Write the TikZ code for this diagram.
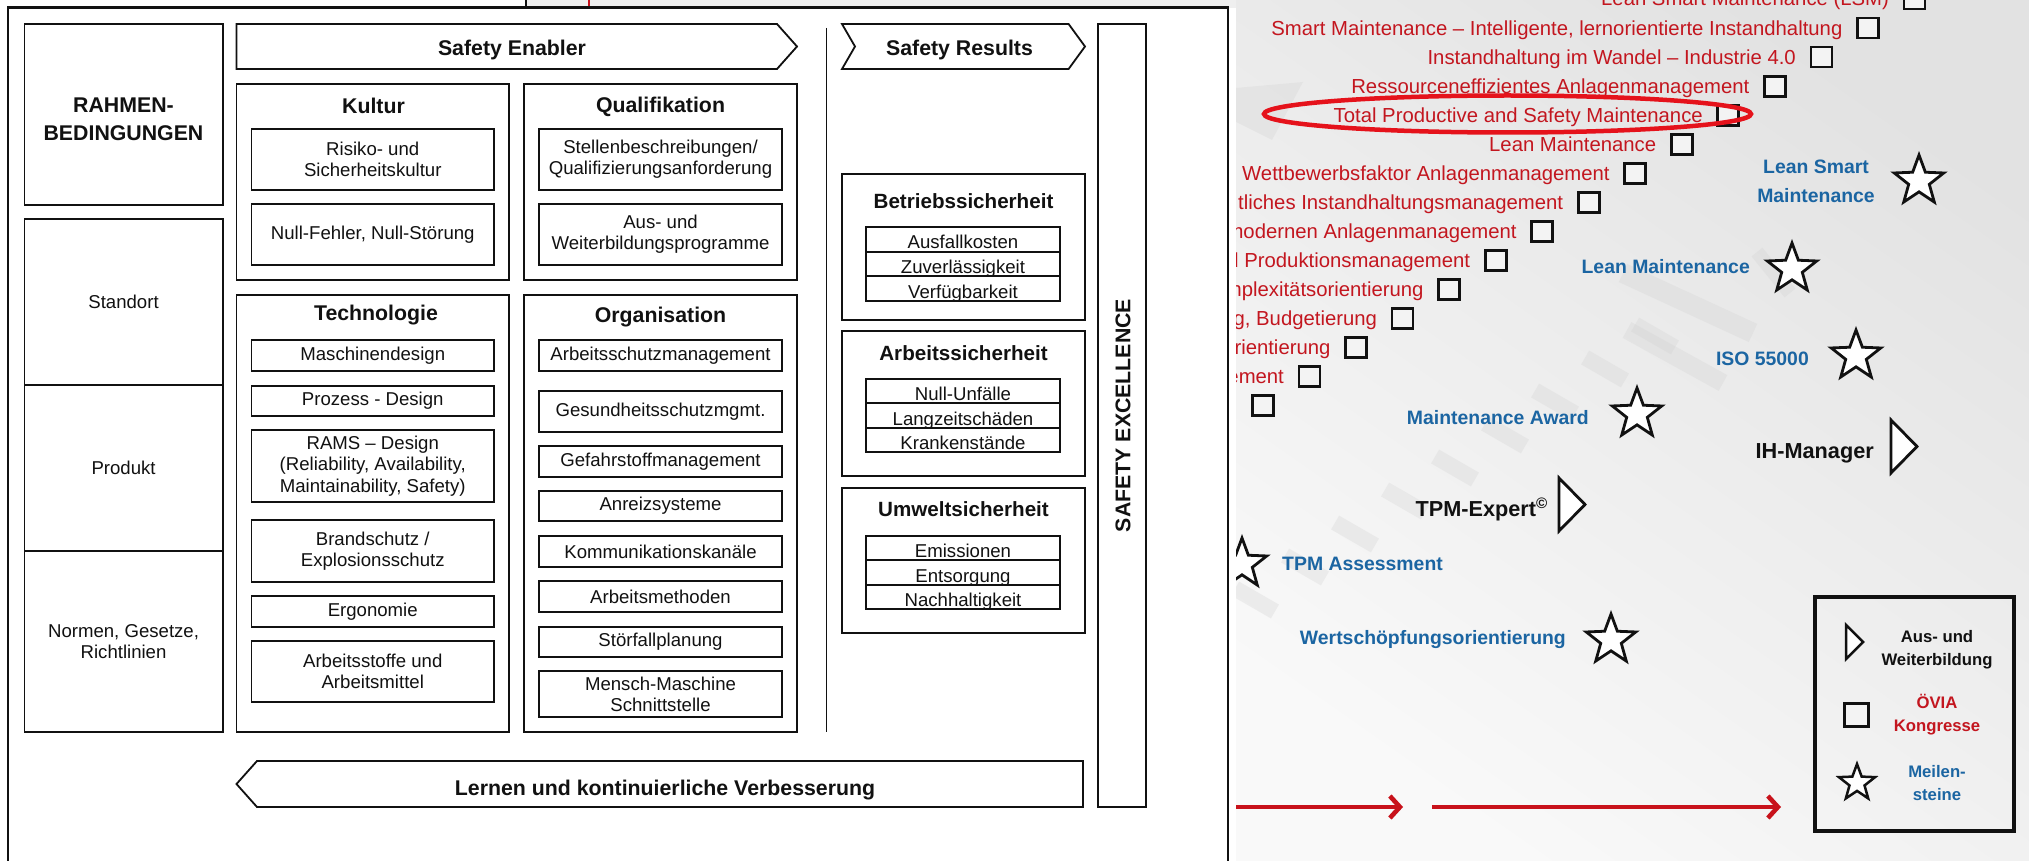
\documentclass[tikz,border=0pt]{standalone}
\usepackage{fontspec}
\setmainfont{Liberation Sans}
\usetikzlibrary{shapes.geometric,arrows.meta}

\definecolor{ink}{HTML}{111111}
\definecolor{ovred}{HTML}{C3161F}
\definecolor{msblue}{HTML}{1B65A2}
\definecolor{ringred}{HTML}{E5121B}
\definecolor{arrred}{HTML}{C8121B}
\definecolor{stripgrey}{HTML}{EFEFEF}
\definecolor{bghi}{HTML}{E2E2E2}
\definecolor{bglo}{HTML}{F9F9F9}
\definecolor{wmgrey}{HTML}{D2D2D2}
\definecolor{sqfill}{HTML}{F3F3F3}

% box node given by its corners: [style]{name}{x1}{y1}{x2}{y2}{text}
\newcommand\mkbox[7][]{%
  \node[#1, minimum width={#5-#3}, minimum height={#6-#4}] (#2)
    at ({(#3+#5)/2},{(#4+#6)/2}) {#7};}

\begin{document}
\begin{tikzpicture}[x=1pt, y=-1pt,
  frm/.style={draw=ink, line width=1.8pt, inner sep=0pt, align=center, text=ink,
    font=\fontsize{18.6}{21.3}\selectfont},
  ttl/.style={inner sep=0pt, align=center, text=ink, font=\fontsize{21.3}{28}\selectfont\bfseries},
  rttl/.style={inner sep=0pt, text=ink, font=\fontsize{20.6}{24}\selectfont\bfseries},
  row/.style={frm, text height=19pt, text depth=0pt},
  outl/.style={draw=ink, line width=1.8pt, line join=miter},
  congtxt/.style={inner sep=0pt, text=ovred, font=\fontsize{20.3}{24}\selectfont},
  mstxt/.style={inner sep=0pt, align=center, text=msblue, font=\fontsize{19.4}{29}\selectfont\bfseries},
  edtxt/.style={inner sep=0pt, text=ink, font=\fontsize{21.7}{26}\selectfont\bfseries},
  legtxt/.style={inner sep=0pt, align=center, text=ink, font=\fontsize{16.7}{23}\selectfont\bfseries},
  congsq/.style={draw=ink, line width=2.8pt, fill=sqfill, minimum width=21, minimum height=20, inner sep=0pt},
  mstar/.style={star, star points=5, star point ratio=2.4, minimum size=52, inner sep=0pt,
    draw=ink, line width=2.8pt, fill=white},
  tri/.style={draw=ink, line width=2.8pt, fill=white, line join=miter},
  wm/.style={wmgrey, opacity=0.3},
  wmbar/.style={fill=wmgrey, opacity=0.3, minimum width=46, minimum height=16, inner sep=0pt},
  redarr/.style={arrred, line width=4.3pt, -{Straight Barb[length=10pt,width=22pt,line width=4.6pt]}}
]
\useasboundingbox (0,0) rectangle (2029,861);
\fill[white] (0,0) rectangle (2029,861);

% ---------- strip above the framed chart ----------
\fill[stripgrey] (527,0) rectangle (1236,8);
\draw[ink, line width=2pt] (526,0) -- (526,8);
\draw[arrred, line width=2pt] (589,0) -- (589,8);

% ---------- roadmap panel ----------
\begin{scope}
  \clip (1236,0) rectangle (2029,861);
  \shade[top color=bghi, bottom color=bglo, shading angle=-35] (1236,0) rectangle (2029,861);
  % faint watermark
  \fill[wm] (1236,88) -- (1303,82) -- (1272,140) -- (1236,122) -- cycle;
  \foreach \i in {0,...,8} {
    \node[wmbar, rotate=-30] (wm\i) at ({1255+50*\i},{600-33*\i}) {};
  }
  \draw[wm, line width=20pt] (1623,273) -- (1753,333);
  \draw[wm, line width=14pt] (1757,252) -- (1790,293);
  \draw[wm, line width=18pt] (1627,330) -- (1723,383);

  % congress staircase
  \foreach \idx/\txt in {
    1/{Lean Smart Maintenance (LSM)},
    2/{Smart Maintenance – Intelligente, lernorientierte Instandhaltung},
    3/{Instandhaltung im Wandel – Industrie 4.0},
    4/{Ressourceneffizientes Anlagenmanagement},
    5/{Total Productive and Safety Maintenance},
    6/{Lean Maintenance},
    7/{Wettbewerbsfaktor Anlagenmanagement},
    8/{tliches Instandhaltungsmanagement},
    9/{modernen Anlagenmanagement},
    10/{d Produktionsmanagement},
    11/{mplexitätsorientierung},
    12/{ng, Budgetierung},
    13/{orientierung},
    14/{gement},
    15/{}} {
    \pgfmathsetmacro\cx{1914.5-46.54*(\idx-1)}
    \pgfmathsetmacro\cy{-1+29.04*(\idx-1)}
    \node[congsq] (sq\idx) at (\cx,\cy) {};
    \node[congtxt, anchor=base east] (ct\idx) at ([xshift=-13.5pt, yshift=-7pt]sq\idx.west) {\txt};
  }
  \node[draw=ringred, line width=4.5pt, ellipse, minimum width=487, minimum height=37, inner sep=0pt]
    (ring) at (1507.5,114) {};

  % milestones
  \node[mstar] (st1) at (1919,181) {};
  \node[mstxt] (ms1) at (1816,181.5) {Lean Smart\\Maintenance};
  \node[mstar] (st2) at (1792,269) {};
  \node[mstxt, anchor=base east] (ms2) at (1750,273) {Lean Maintenance};
  \node[mstar] (st3) at (1856,356) {};
  \node[mstxt, anchor=base east] (ms3) at (1809,365) {ISO 55000};
  \node[mstar] (st4) at (1637,414) {};
  \node[mstxt, anchor=base east] (ms4) at (1589,424) {Maintenance Award};
  \node[mstar] (st5) at (1242,564) {};
  \node[mstxt, anchor=base west] (ms5) at (1282,570) {TPM Assessment};
  \node[mstar] (st6) at (1611,640) {};
  \node[mstxt, anchor=base east] (ms6) at (1566,644) {Wertschöpfungsorientierung};

  % training courses
  \node[edtxt, anchor=base east] (ed1) at (1874,458) {IH-Manager};
  \draw[tri] (1891,420) -- (1891,473) -- (1917,446.5) -- cycle;
  \node[edtxt, anchor=base east] (ed2) at (1548,516) {TPM-Expert\textsuperscript{\textcopyright}};
  \draw[tri] (1559,478) -- (1559,531) -- (1585,504.5) -- cycle;

  % time arrows
  \coordinate (a1s) at (1230,807); \coordinate (a1e) at (1403,807);
  \coordinate (a2s) at (1432,807); \coordinate (a2e) at (1781,807);
  \draw[redarr] (a1s) -- (a1e);
  \draw[redarr] (a2s) -- (a2e);

  % legend
  \node[draw=ink, line width=3.5pt, minimum width=199, minimum height=234, inner sep=0pt] (legend) at (1914.5,714) {};
  \draw[tri, line width=2.5pt] (1846,625) -- (1846,659) -- (1863,642) -- cycle;
  \node[legtxt] (lg1) at (1937,650) {Aus- und\\Weiterbildung};
  \node[congsq, minimum width=24, minimum height=23] (legsq) at (1856.5,715) {};
  \node[legtxt, text=ovred] (lg2) at (1937,714.5) {ÖVIA\\Kongresse};
  \node[mstar, minimum size=38, line width=2.5pt] (legstar) at (1857,783) {};
  \node[legtxt, text=msblue] (lg3) at (1937,783) {Meilen-\\steine};
\end{scope}

% ---------- framed safety chart ----------
\draw[draw=ink, line width=2.4pt, fill=white] (8,880) -- (8,7.5) -- (1228,7.5) -- (1228,880);

% framework conditions
\mkbox[frm]{rahmen}{24.5}{24}{222.6}{205}{}
\node[ttl] (rahmenT) at (123.5,119) {RAHMEN-\\BEDINGUNGEN};
\mkbox[frm]{standort}{24.5}{219}{222.6}{385}{Standort}
\mkbox[frm]{produkt}{24.5}{385}{222.6}{551}{Produkt}
\mkbox[frm]{normen}{24.5}{551}{222.6}{732}{Normen, Gesetze,\\Richtlinien}

% safety enabler banner
\draw[outl] (236.5,24) -- (777,24) -- (797,46.5) -- (777,69) -- (236.5,69) -- cycle;
\node[ttl, anchor=base] (enabler) at (512,55.5) {Safety Enabler};

% Kultur
\mkbox[frm]{kultur}{236.5}{84}{509}{280}{}
\node[ttl, anchor=base] (kulturT) at (373.5,113.3) {Kultur};
\mkbox[frm]{risiko}{251.5}{129}{494}{190}{Risiko- und\\Sicherheitskultur}
\mkbox[frm]{nullf}{251.5}{204}{494}{265}{Null-Fehler, Null-Störung}

% Qualifikation
\mkbox[frm]{quali}{524}{84}{797}{280}{}
\node[ttl, anchor=base] (qualiT) at (660.5,113) {Qualifikation};
\mkbox[frm]{stellen}{539}{129}{782}{190}{Stellenbeschreibungen/\\Qualifizierungsanforderung}
\mkbox[frm]{ausw}{539}{204}{782}{265}{Aus- und\\Weiterbildungsprogramme}

% Technologie
\mkbox[frm]{techno}{236.5}{295}{509}{732}{}
\node[ttl, anchor=base] (technoT) at (376,320) {Technologie};
\mkbox[frm]{masch}{251.5}{340}{494}{371}{Maschinendesign}
\mkbox[frm]{prozess}{251.5}{386}{494}{416}{Prozess - Design}
\mkbox[frm]{rams}{251.5}{430}{494}{502}{RAMS – Design\\(Reliability, Availability,\\Maintainability, Safety)}
\mkbox[frm]{brand}{251.5}{520}{494}{582}{Brandschutz /\\Explosionsschutz}
\mkbox[frm]{ergo}{251.5}{596}{494}{627}{Ergonomie}
\mkbox[frm]{astoff}{251.5}{641}{494}{702}{Arbeitsstoffe und\\Arbeitsmittel}

% Organisation
\mkbox[frm]{orga}{524}{295}{797}{732}{}
\node[ttl, anchor=base] (orgaT) at (660.5,322) {Organisation};
\mkbox[frm]{arbschutz}{539}{340}{782}{371}{Arbeitsschutzmanagement}
\mkbox[frm]{gesund}{539}{391}{782}{432}{Gesundheitsschutzmgmt.}
\mkbox[frm]{gefahr}{539}{446}{782}{477}{Gefahrstoffmanagement}
\mkbox[frm]{anreiz}{539}{491}{782}{521}{Anreizsysteme}
\mkbox[frm]{komm}{539}{536}{782}{567}{Kommunikationskanäle}
\mkbox[frm]{amethod}{539}{581}{782}{612}{Arbeitsmethoden}
\mkbox[frm]{stoerfall}{539}{627}{782}{657}{Störfallplanung}
\mkbox[frm]{mmi}{539}{671}{782}{717}{Mensch-Maschine\\Schnittstelle}

% divider between enablers and results
\coordinate (divTop) at (826.5,28); \coordinate (divBot) at (826.5,732);
\draw[ink, line width=1.8pt] (divTop) -- (divBot);

% safety results banner
\draw[outl] (842,24) -- (1068.6,24) -- (1085,46.5) -- (1068.6,69) -- (842,69) -- (855,46.5) -- cycle;
\node[ttl, anchor=base] (results) at (959.5,55.5) {Safety Results};

% Betriebssicherheit
\mkbox[frm]{betr}{842}{174}{1085}{320}{}
\node[rttl, anchor=base] (betrT) at (963.5,208) {Betriebssicherheit};
\mkbox[row]{betr1}{866}{227}{1060}{251.7}{Ausfallkosten}
\mkbox[row]{betr2}{866}{251.7}{1060}{276.3}{Zuverlässigkeit}
\mkbox[row]{betr3}{866}{276.3}{1060}{301}{Verfügbarkeit}

% Arbeitssicherheit
\mkbox[frm]{arbs}{842}{331}{1085}{476}{}
\node[rttl, anchor=base] (arbsT) at (963.5,360) {Arbeitssicherheit};
\mkbox[row]{arbs1}{866}{379}{1060}{403.3}{Null-Unfälle}
\mkbox[row]{arbs2}{866}{403.3}{1060}{427.7}{Langzeitschäden}
\mkbox[row]{arbs3}{866}{427.7}{1060}{452}{Krankenstände}

% Umweltsicherheit
\mkbox[frm]{umw}{842}{488}{1085}{633}{}
\node[rttl, anchor=base] (umwT) at (963.5,516.5) {Umweltsicherheit};
\mkbox[row]{umw1}{866}{536}{1060}{560.3}{Emissionen}
\mkbox[row]{umw2}{866}{560.3}{1060}{584.7}{Entsorgung}
\mkbox[row]{umw3}{866}{584.7}{1060}{609}{Nachhaltigkeit}

% safety excellence column
\mkbox[frm]{excel}{1098}{24}{1146}{807}{}
\node[ttl, rotate=90] (excelT) at (1123,415.5) {SAFETY EXCELLENCE};

% learning loop banner
\draw[outl] (1083,761) -- (257,761) -- (236.5,784) -- (257,807) -- (1083,807) -- cycle;
\node[ttl, anchor=base] (lernen) at (665,795) {Lernen und kontinuierliche Verbesserung};
\end{tikzpicture}
\end{document}
